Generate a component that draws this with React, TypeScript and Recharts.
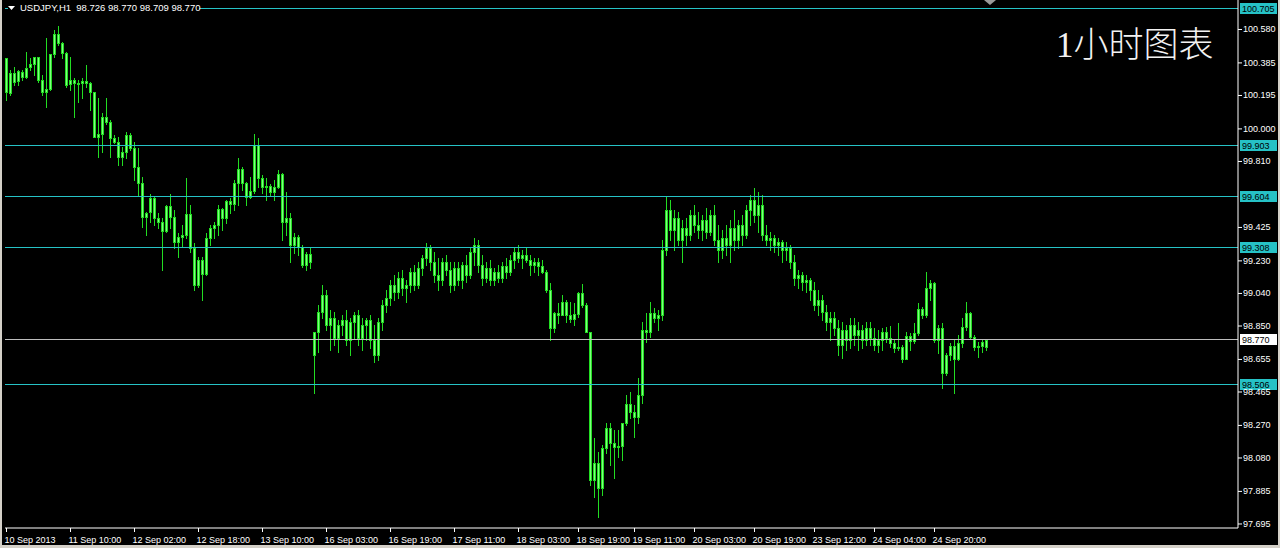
import React from 'react';
import { ComposedChart, Bar, XAxis, YAxis, ReferenceLine } from 'recharts';

const SYMBOL = 'USDJPY,H1';
const QUOTE = ['98.726', '98.770', '98.709', '98.770'];
const TITLE = '1小时图表';

// hourly candles, 10 Sep 2013 -> 25 Sep 2013
const opens = [
  100.413, 100.209, 100.326, 100.279, 100.332, 100.303, 100.361, 100.379, 100.419, 100.285,
  100.215, 100.232, 100.437, 100.554, 100.501, 100.442, 100.262, 100.285, 100.267, 100.267,
  100.279, 100.267, 100.215, 99.953, 99.971, 100.069, 100.040, 99.947, 99.923, 99.836,
  99.865, 99.965, 99.888, 99.778, 99.684, 99.486, 99.515, 99.597, 99.480, 99.457,
  99.404, 99.550, 99.486, 99.340, 99.369, 99.381, 99.504, 99.305, 99.089, 99.235,
  99.154, 99.363, 99.422, 99.440, 99.532, 99.480, 99.579, 99.562, 99.684, 99.766,
  99.684, 99.603, 99.638, 99.906, 99.713, 99.661, 99.667, 99.632, 99.661, 99.737,
  99.457, 99.480, 99.323, 99.369, 99.311, 99.206, 99.270, 98.681, 98.815, 98.931,
  99.031, 98.856, 98.896, 98.780, 98.856, 98.885, 98.768, 98.873, 98.914, 98.780,
  98.856, 98.885, 98.768, 98.681, 98.873, 98.973, 99.014, 99.089, 99.048, 99.130,
  99.072, 99.089, 99.165, 99.089, 99.188, 99.247, 99.305, 99.223, 99.148, 99.118,
  99.223, 99.177, 99.089, 99.188, 99.118, 99.206, 99.148, 99.282, 99.323, 99.206,
  99.130, 99.188, 99.118, 99.165, 99.130, 99.200, 99.165, 99.235, 99.282, 99.247,
  99.265, 99.235, 99.206, 99.223, 99.200, 99.165, 99.060, 98.839, 98.925, 98.914,
  98.990, 98.914, 98.891, 98.920, 99.043, 98.973, 98.815, 97.952, 98.051, 97.905,
  98.138, 98.255, 98.167, 98.144, 98.150, 98.284, 98.395, 98.348, 98.319, 98.448,
  98.827, 98.815, 98.925, 98.896, 98.914, 99.294, 99.527, 99.410, 99.480, 99.352,
  99.422, 99.381, 99.498, 99.440, 99.410, 99.469, 99.398, 99.498, 99.352, 99.294,
  99.363, 99.323, 99.422, 99.352, 99.440, 99.381, 99.527, 99.585, 99.498, 99.556,
  99.381, 99.352, 99.363, 99.323, 99.340, 99.294, 99.305, 99.223, 99.130, 99.148,
  99.107, 99.118, 99.060, 98.973, 99.002, 98.931, 98.873, 98.896, 98.839, 98.739,
  98.827, 98.768, 98.856, 98.798, 98.827, 98.768, 98.839, 98.780, 98.739, 98.768,
  98.815, 98.780, 98.751, 98.722, 98.728, 98.658, 98.792, 98.763, 98.810, 98.949,
  98.914, 99.072, 99.101, 98.768, 98.839, 98.576, 98.681, 98.733, 98.658, 98.751,
  98.845, 98.925, 98.786, 98.728, 98.733, 98.726,
];
const highs = [
  100.413, 100.344, 100.361, 100.344, 100.344, 100.448, 100.413, 100.419, 100.419, 100.315,
  100.530, 100.437, 100.577, 100.600, 100.507, 100.448, 100.419, 100.297, 100.285, 100.297,
  100.373, 100.273, 100.215, 100.180, 100.092, 100.180, 100.052, 99.965, 99.953, 99.894,
  99.982, 99.976, 99.923, 99.888, 99.719, 99.515, 99.621, 99.603, 99.509, 99.480,
  99.556, 99.621, 99.527, 99.392, 99.440, 99.713, 99.556, 99.334, 99.253, 99.253,
  99.392, 99.440, 99.457, 99.556, 99.538, 99.585, 99.597, 99.702, 99.830, 99.778,
  99.690, 99.719, 99.971, 99.947, 99.731, 99.713, 99.679, 99.702, 99.760, 99.743,
  99.632, 99.509, 99.392, 99.381, 99.323, 99.282, 99.305, 98.815, 98.973, 99.089,
  99.060, 98.943, 98.931, 98.885, 98.914, 98.943, 98.896, 98.931, 98.943, 98.896,
  98.896, 98.914, 98.856, 98.896, 99.002, 99.060, 99.118, 99.148, 99.165, 99.177,
  99.118, 99.188, 99.206, 99.223, 99.265, 99.334, 99.323, 99.282, 99.247, 99.247,
  99.265, 99.223, 99.223, 99.223, 99.223, 99.265, 99.305, 99.363, 99.352, 99.265,
  99.223, 99.235, 99.188, 99.206, 99.223, 99.247, 99.265, 99.305, 99.323, 99.294,
  99.305, 99.265, 99.247, 99.247, 99.235, 99.177, 99.101, 98.931, 98.984, 99.031,
  99.002, 98.990, 98.984, 99.048, 99.095, 98.984, 98.815, 98.197, 98.115, 98.156,
  98.284, 98.284, 98.243, 98.243, 98.284, 98.448, 98.465, 98.389, 98.547, 98.873,
  98.925, 98.990, 98.955, 98.943, 99.352, 99.603, 99.585, 99.527, 99.515, 99.469,
  99.480, 99.527, 99.556, 99.515, 99.498, 99.538, 99.527, 99.556, 99.440, 99.410,
  99.440, 99.469, 99.527, 99.469, 99.498, 99.556, 99.615, 99.655, 99.632, 99.615,
  99.440, 99.398, 99.381, 99.363, 99.352, 99.340, 99.323, 99.265, 99.177, 99.165,
  99.148, 99.130, 99.107, 99.060, 99.031, 98.973, 98.931, 98.931, 98.885, 98.873,
  98.856, 98.896, 98.896, 98.873, 98.856, 98.873, 98.873, 98.839, 98.827, 98.839,
  98.845, 98.850, 98.768, 98.867, 98.739, 98.815, 98.810, 98.867, 98.984, 98.961,
  99.165, 99.118, 99.107, 98.856, 98.867, 98.693, 98.751, 98.768, 98.798, 98.896,
  98.990, 98.931, 98.798, 98.757, 98.768, 98.770,
];
const lows = [
  100.169, 100.198, 100.256, 100.256, 100.285, 100.297, 100.344, 100.315, 100.273, 100.198,
  100.128, 100.227, 100.419, 100.490, 100.413, 100.244, 100.227, 100.069, 100.157, 100.180,
  100.244, 100.110, 99.953, 99.836, 99.865, 100.029, 99.836, 99.917, 99.790, 99.790,
  99.830, 99.877, 99.702, 99.615, 99.428, 99.381, 99.457, 99.440, 99.422, 99.177,
  99.398, 99.422, 99.305, 99.253, 99.311, 99.363, 99.282, 99.060, 99.077, 99.002,
  99.148, 99.323, 99.363, 99.381, 99.410, 99.451, 99.509, 99.527, 99.556, 99.644,
  99.556, 99.597, 99.626, 99.661, 99.626, 99.585, 99.615, 99.585, 99.655, 99.352,
  99.381, 99.223, 99.276, 99.265, 99.194, 99.177, 99.188, 98.459, 98.698, 98.896,
  98.827, 98.710, 98.739, 98.698, 98.798, 98.739, 98.681, 98.780, 98.739, 98.710,
  98.768, 98.722, 98.640, 98.652, 98.827, 98.931, 98.973, 99.002, 99.014, 99.031,
  98.990, 99.048, 99.060, 99.072, 99.148, 99.206, 99.177, 99.107, 99.060, 99.089,
  99.148, 99.048, 99.060, 99.089, 99.072, 99.107, 99.130, 99.206, 99.165, 99.089,
  99.107, 99.089, 99.089, 99.107, 99.107, 99.130, 99.148, 99.188, 99.223, 99.188,
  99.223, 99.148, 99.165, 99.148, 99.159, 99.048, 98.768, 98.815, 98.867, 98.914,
  98.873, 98.873, 98.856, 98.902, 98.961, 98.815, 97.923, 97.852, 97.736, 97.864,
  98.109, 98.039, 97.963, 98.086, 98.068, 98.273, 98.313, 98.203, 98.284, 98.401,
  98.757, 98.786, 98.873, 98.827, 98.885, 99.265, 99.352, 99.294, 99.323, 99.223,
  99.323, 99.352, 99.398, 99.363, 99.352, 99.363, 99.381, 99.323, 99.223, 99.247,
  99.265, 99.223, 99.294, 99.305, 99.323, 99.363, 99.440, 99.457, 99.398, 99.352,
  99.323, 99.294, 99.282, 99.265, 99.223, 99.235, 99.188, 99.089, 99.072, 99.060,
  99.048, 99.002, 98.943, 98.914, 98.885, 98.827, 98.768, 98.798, 98.681, 98.664,
  98.710, 98.722, 98.739, 98.710, 98.722, 98.739, 98.739, 98.710, 98.698, 98.710,
  98.757, 98.728, 98.698, 98.710, 98.640, 98.658, 98.710, 98.751, 98.798, 98.896,
  98.902, 99.002, 98.757, 98.693, 98.488, 98.564, 98.652, 98.459, 98.652, 98.728,
  98.827, 98.780, 98.710, 98.670, 98.698, 98.709,
];
const closes = [
  100.215, 100.326, 100.273, 100.338, 100.303, 100.355, 100.379, 100.419, 100.285, 100.215,
  100.232, 100.437, 100.554, 100.501, 100.442, 100.256, 100.285, 100.267, 100.262, 100.279,
  100.267, 100.215, 99.953, 99.971, 100.069, 100.040, 99.947, 99.923, 99.836, 99.865,
  99.965, 99.888, 99.778, 99.684, 99.486, 99.509, 99.597, 99.480, 99.457, 99.404,
  99.550, 99.486, 99.340, 99.369, 99.381, 99.504, 99.305, 99.089, 99.235, 99.154,
  99.363, 99.422, 99.440, 99.532, 99.480, 99.579, 99.562, 99.684, 99.766, 99.684,
  99.603, 99.638, 99.906, 99.713, 99.661, 99.667, 99.632, 99.661, 99.737, 99.457,
  99.480, 99.323, 99.369, 99.311, 99.206, 99.270, 99.223, 98.815, 98.931, 99.031,
  98.856, 98.896, 98.780, 98.856, 98.885, 98.768, 98.873, 98.914, 98.780, 98.856,
  98.885, 98.768, 98.681, 98.873, 98.973, 99.014, 99.089, 99.048, 99.130, 99.072,
  99.089, 99.165, 99.089, 99.188, 99.247, 99.305, 99.223, 99.148, 99.118, 99.223,
  99.177, 99.089, 99.188, 99.118, 99.206, 99.148, 99.282, 99.323, 99.206, 99.130,
  99.188, 99.118, 99.165, 99.130, 99.200, 99.165, 99.235, 99.282, 99.247, 99.265,
  99.235, 99.206, 99.223, 99.200, 99.165, 99.060, 98.839, 98.925, 98.914, 98.990,
  98.914, 98.891, 98.920, 99.043, 98.973, 98.815, 97.952, 98.051, 97.905, 98.138,
  98.255, 98.167, 98.144, 98.150, 98.284, 98.395, 98.348, 98.319, 98.448, 98.827,
  98.815, 98.925, 98.896, 98.914, 99.294, 99.527, 99.410, 99.480, 99.352, 99.422,
  99.381, 99.498, 99.440, 99.410, 99.469, 99.398, 99.498, 99.352, 99.294, 99.363,
  99.323, 99.422, 99.352, 99.440, 99.381, 99.527, 99.585, 99.498, 99.556, 99.381,
  99.352, 99.363, 99.323, 99.340, 99.294, 99.305, 99.223, 99.130, 99.148, 99.107,
  99.118, 99.060, 98.973, 99.002, 98.931, 98.873, 98.896, 98.839, 98.739, 98.827,
  98.768, 98.856, 98.798, 98.827, 98.768, 98.839, 98.780, 98.739, 98.768, 98.815,
  98.780, 98.751, 98.722, 98.728, 98.658, 98.792, 98.763, 98.810, 98.949, 98.914,
  99.072, 99.101, 98.768, 98.839, 98.576, 98.681, 98.733, 98.658, 98.751, 98.845,
  98.925, 98.786, 98.728, 98.733, 98.757, 98.770,
];

const levelLines = [100.705, 99.903, 99.604, 99.308, 98.506];
const lastPrice = 98.770;
const priceTicks = [100.58, 100.385, 100.195, 100.0, 99.81, 99.425, 99.23, 99.04, 98.85, 98.655, 98.465, 98.27, 98.08, 97.885, 97.695];
const timeLabels = [
  '10 Sep 2013', '11 Sep 10:00', '12 Sep 02:00', '12 Sep 18:00', '13 Sep 10:00', '16 Sep 03:00',
  '16 Sep 19:00', '17 Sep 11:00', '18 Sep 03:00', '18 Sep 19:00', '19 Sep 11:00', '20 Sep 03:00',
  '20 Sep 19:00', '23 Sep 12:00', '24 Sep 04:00', '24 Sep 20:00',
];
const timeLabelBars = [0, 16, 32, 48, 64, 80, 96, 112, 128, 143, 157, 172, 187, 202, 217, 232];

const WICK = '#22dd22';
const BODY = '#80ff80';
const LEVEL = '#26c2c6';
const FONT = '"Liberation Sans", Arial, sans-serif';

const candles = opens.map((o, i) => ({ i, open: o, high: highs[i], low: lows[i], close: closes[i] }));

const Candle = (props: any) => {
  const { x, y, width, height, payload } = props;
  if (!payload || x == null) return null;
  const top = Math.min(y, y + height);
  const bot = Math.max(y, y + height);
  const span = payload.high - payload.low;
  const k = span > 0 ? (bot - top) / span : 0;
  const yo = top + (payload.high - payload.open) * k;
  const yc = top + (payload.high - payload.close) * k;
  const cx = Math.round(x + width / 2 - 0.5) + 0.5;
  const b0 = Math.round(Math.min(yo, yc));
  const b1 = Math.round(Math.max(yo, yc));
  return (
    <g>
      <line x1={cx} x2={cx} y1={Math.round(top)} y2={Math.round(bot) + 1} stroke={WICK} strokeWidth={1} />
      {b1 - b0 < 1 ? (
        <line x1={cx - 1.5} x2={cx + 1.5} y1={b0 + 0.5} y2={b0 + 0.5} stroke={WICK} strokeWidth={1} />
      ) : (
        <rect x={cx - 1} y={b0 + 0.5} width={2} height={b1 - b0} fill={BODY} stroke={WICK} strokeWidth={1} />
      )}
    </g>
  );
};

// keep horizontal lines on whole pixels
const CrispLine = (props: any) => {
  const { x1, x2, y1, stroke } = props;
  if (y1 == null) return null;
  const yy = Math.floor(y1) + 0.5;
  return <line x1={x1} x2={x2} y1={yy} y2={yy} stroke={stroke} strokeWidth={1} />;
};

const PriceTick = (props: any) => {
  const { x, y, payload } = props;
  return (
    <text x={x} y={y + 3} fill="#fff" fontSize={9} fontFamily={FONT} textAnchor="start">
      {Number(payload.value).toFixed(3)}
    </text>
  );
};

const TimeTick = (props: any) => {
  const { x, y, payload } = props;
  const idx = timeLabelBars.indexOf(payload.value);
  return (
    <text x={x - 2} y={y + 9} fill="#fff" fontSize={9} fontFamily={FONT} textAnchor="start">
      {idx >= 0 ? timeLabels[idx] : ''}
    </text>
  );
};

const PriceTag = ({ viewBox, value, bg }: any) => {
  if (!viewBox) return null;
  const x = viewBox.x + viewBox.width + 2;
  const y = Math.floor(viewBox.y);
  return (
    <g>
      <rect x={x} y={y - 5} width={37} height={11} fill={bg} />
      <text x={x + 2} y={y + 4} fill="#000" fontSize={9} fontFamily={FONT}>
        {value.toFixed(3)}
      </text>
    </g>
  );
};

export default function App() {
  return (
    <div style={{ position: 'absolute', left: 0, top: 0, width: 1280, height: 548, background: '#000', overflow: 'hidden' }}>
      <ComposedChart width={1280} height={545} data={candles} margin={{ top: 0, right: 0, bottom: 0, left: 5 }}>
        <XAxis
          dataKey="i"
          type="number"
          domain={[-0.375, 307.875]}
          allowDataOverflow
          ticks={timeLabelBars}
          interval={0}
          height={17}
          axisLine={{ stroke: '#fff' }}
          tickLine={{ stroke: '#fff' }}
          tickSize={4}
          tick={<TimeTick />}
        />
        <YAxis
          orientation="right"
          domain={[97.6715, 100.752]}
          allowDataOverflow
          ticks={priceTicks}
          interval={0}
          width={42}
          axisLine={{ stroke: '#fff' }}
          tickLine={{ stroke: '#fff' }}
          tickSize={4}
          tickMargin={1}
          tick={<PriceTick />}
        />
        {levelLines.map((lv) => (
          <ReferenceLine
            key={lv}
            y={lv}
            stroke={LEVEL}
            ifOverflow="visible"
            shape={<CrispLine />}
            label={<PriceTag value={lv} bg={LEVEL} />}
          />
        ))}
        <ReferenceLine
          y={lastPrice}
          stroke="#bdbdbd"
          ifOverflow="visible"
          shape={<CrispLine />}
          label={<PriceTag value={lastPrice} bg="#fff" />}
        />
        <Bar dataKey={(d: any) => [d.low, d.high]} barSize={3} shape={<Candle />} isAnimationActive={false} />
      </ComposedChart>

      <div style={{ position: 'absolute', left: 8, top: 2, height: 11, width: 191, background: '#000' }}>
        <svg width={10} height={11} style={{ position: 'absolute', left: 0, top: 0 }}>
          <polygon points="0,4 7,4 3.5,8" fill="#fff" />
        </svg>
        <span style={{ position: 'absolute', left: 12, top: -1, color: '#fff', font: `9.5px ${FONT}`, whiteSpace: 'pre', lineHeight: '13px' }}>
          {`${SYMBOL}  ${QUOTE.join(' ')}`}
        </span>
      </div>
      <svg width={14} height={6} style={{ position: 'absolute', left: 983, top: 0 }}>
        <polygon points="1,0 13,0 7,5" fill="#9a9a9a" />
      </svg>
      <div style={{ position: 'absolute', left: 1056, top: 24, color: '#f2f2f2', font: `300 35px "Liberation Serif", "Noto Sans CJK SC", serif`, whiteSpace: 'nowrap', lineHeight: '44px' }}>
        {TITLE}
      </div>
      <div style={{ position: 'absolute', left: 0, top: 0, width: 2, height: 548, background: '#d4d0c8' }} />
      <div style={{ position: 'absolute', right: 0, top: 0, width: 2, height: 548, background: '#d4d0c8' }} />
      <div style={{ position: 'absolute', left: 0, top: 545, width: 1280, height: 3, background: '#d4d0c8' }} />
    </div>
  );
}
